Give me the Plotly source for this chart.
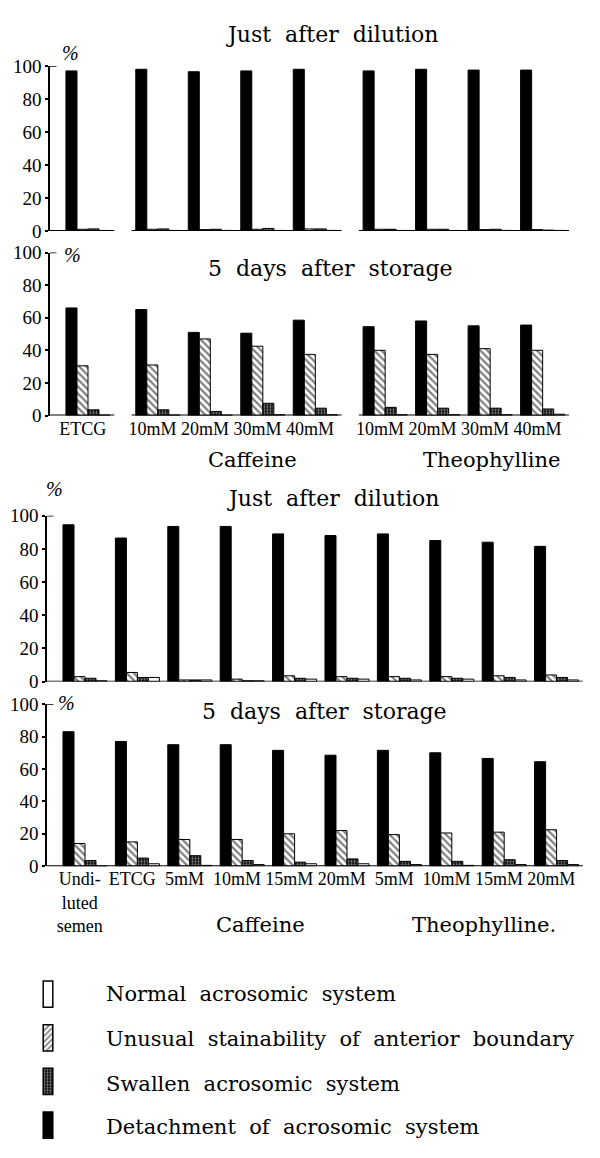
import plotly.graph_objects as go

W, H = 600, 1158

# ---------------- data ----------------
series_names = ["Detachment of acrosomic system",
                "Unusual stainability of anterior boundary",
                "Swallen acrosomic system",
                "Normal acrosomic system"]

# Figure A (top two panels)
figA_labels = ["ETCG", "10mM", "20mM", "30mM", "40mM", "10mM", "20mM", "30mM", "40mM"]
figA_section = [0, 1, 1, 1, 1, 2, 2, 2, 2]

p1_detach  = [97.0, 98.0, 96.5, 97.0, 98.0, 97.0, 98.0, 97.5, 97.5]
p1_unusual = [1.0, 1.0, 0.8, 1.0, 1.2, 1.0, 1.0, 0.8, 0.8]
p1_swallen = [1.2, 1.2, 1.0, 1.5, 1.2, 1.0, 1.0, 1.0, 0.5]
p1_normal  = [0.3, 0.3, 0.3, 0.3, 0.3, 0.3, 0.3, 0.3, 0.3]

p2_detach  = [66.0, 65.0, 51.0, 50.5, 58.5, 54.5, 58.0, 55.0, 55.5]
p2_unusual = [30.5, 31.0, 47.0, 42.5, 37.5, 40.0, 37.5, 41.0, 40.0]
p2_swallen = [3.5, 3.5, 2.5, 7.5, 4.5, 5.0, 4.5, 4.5, 4.0]
p2_normal  = [0.3, 0.3, 0.3, 0.5, 0.5, 0.5, 0.5, 0.5, 0.8]

# Figure B (bottom two panels)
figB_labels = ["Undi-<br>luted<br>semen", "ETCG", "5mM", "10mM", "15mM", "20mM",
               "5mM", "10mM", "15mM", "20mM"]
figB_section = [0, 0, 1, 1, 1, 1, 2, 2, 2, 2]

p3_detach  = [94.5, 86.5, 93.5, 93.5, 89.0, 88.0, 89.0, 85.0, 84.0, 81.5]
p3_unusual = [3.0, 5.5, 1.0, 1.5, 3.5, 3.0, 3.0, 3.0, 3.5, 4.0]
p3_swallen = [2.0, 2.5, 1.0, 0.5, 2.0, 2.0, 2.0, 2.0, 2.5, 2.5]
p3_normal  = [0.5, 2.5, 1.0, 0.5, 1.5, 1.5, 1.0, 1.5, 1.0, 1.0]

p4_detach  = [83.0, 77.0, 75.0, 75.0, 71.5, 68.5, 71.5, 70.0, 66.5, 64.5]
p4_unusual = [14.0, 15.0, 16.5, 16.5, 20.0, 22.0, 19.5, 20.5, 21.0, 22.5]
p4_swallen = [3.5, 5.0, 6.5, 3.5, 2.5, 4.5, 3.0, 3.0, 4.0, 3.5]
p4_normal  = [0.0, 1.5, 0.5, 1.0, 1.5, 1.5, 1.0, 0.5, 1.0, 1.0]

y_ticks = [0, 20, 40, 60, 80, 100]
panel_titles = ["Just  after  dilution", "5  days  after  storage",
                "Just  after  dilution", "5  days  after  storage"]
section_names_A = ["Caffeine", "Theophylline"]
section_names_B = ["Caffeine", "Theophylline."]

# ---------------- layout helpers ----------------
def px(x):
    return x / W

def py(y):
    return min(1.0, max(0.0, 1 - y / H))

TITLE_FONT = dict(family="DejaVu Serif", size=22, color="black")
SECTION_FONT = dict(family="DejaVu Serif", size=21, color="black")
TICK_FONT = dict(family="Liberation Serif", size=19, color="black")
XTICK_FONT = dict(family="Liberation Serif", size=18, color="black")

hatch = dict(shape="\\", fgcolor="black", bgcolor="white", size=5, solidity=0.45)
stipple = dict(shape=".", fgcolor="white", bgcolor="black", size=3, solidity=0.45)
styles = [
    dict(color="black", line=dict(color="black", width=1)),
    dict(color="white", line=dict(color="black", width=1), pattern=hatch),
    dict(color="white", line=dict(color="black", width=1), pattern=stipple),
    dict(color="white", line=dict(color="black", width=1)),
]
legend_styles = [
    dict(color="black", line=dict(color="black", width=1.5)),
    dict(color="white", line=dict(color="black", width=1.5),
         pattern=dict(shape="/", fgcolor="black", bgcolor="white", size=4, solidity=0.45)),
    dict(color="white", line=dict(color="black", width=1.5), pattern=stipple),
    dict(color="white", line=dict(color="black", width=1.5)),
]

def positions(sections, gap):
    return [i + gap * s for i, s in enumerate(sections)]

posA = positions(figA_section, 0.33)
posB = positions(figB_section, 0.0)

panels = [
    # (values, positions, labels, sections, show labels, y100 px, y0 px, x-left px, unit px, group0 center px)
    ([p1_detach, p1_unusual, p1_swallen, p1_normal], posA, figA_labels, figA_section, False, 57, 225, 50, 52.5, 88),
    ([p2_detach, p2_unusual, p2_swallen, p2_normal], posA, figA_labels, figA_section, True, 247, 413, 50, 52.5, 88),
    ([p3_detach, p3_unusual, p3_swallen, p3_normal], posB, figB_labels, figB_section, False, 515, 684, 47, 52.4, 85),
    ([p4_detach, p4_unusual, p4_swallen, p4_normal], posB, figB_labels, figB_section, True, 707, 872, 47, 52.4, 85),
]

fig = go.Figure()
layout = dict(width=W, height=H, margin=dict(l=0, r=0, t=0, b=0),
              paper_bgcolor="white", plot_bgcolor="white",
              barmode="group", bargap=0.16, bargroupgap=0,
              showlegend=False, font=dict(family="Liberation Serif", color="black"))
shapes = []
annotations = []

for k, (vals, pos, labels, secs, show_lbl, y100, y0, xl, unit, c0) in enumerate(panels):
    n = k + 1
    xa = "x" if n == 1 else f"x{n}"
    ya = "y" if n == 1 else f"y{n}"
    for s, v in enumerate(vals):
        fig.add_trace(go.Bar(x=pos, y=v, name=series_names[s], marker=styles[s],
                             xaxis=xa, yaxis=ya, hoverinfo="y+name"))
    left = (xl - c0) / unit
    right = left + (590 - xl) / unit
    layout[f"xaxis{'' if n == 1 else n}"] = dict(
        domain=[px(xl), px(590)], range=[left, right], anchor=ya,
        showline=False, showgrid=False, zeroline=False,
        tickmode="array", tickvals=[p - 0.1 for p in pos], ticktext=labels,
        showticklabels=show_lbl, ticks="", tickfont=XTICK_FONT, tickangle=0)
    layout[f"yaxis{'' if n == 1 else n}"] = dict(
        domain=[py(y0), py(y100)], range=[0, 100], anchor=xa,
        showline=True, linecolor="black", linewidth=1.5, showgrid=False, zeroline=False,
        tickmode="array", tickvals=y_ticks, ticks="outside", ticklen=3, tickwidth=1.5,
        tickcolor="black", tickfont=TICK_FONT)
    # segmented baseline (one segment per section)
    for sid in sorted(set(secs)):
        idx = [i for i, s in enumerate(secs) if s == sid]
        x0 = left if sid == 0 else pos[idx[0]] - 0.5
        x1 = pos[idx[-1]] + 0.5
        shapes.append(dict(type="line", xref=xa, yref=ya, x0=x0, x1=x1, y0=0, y1=0,
                           line=dict(color="black", width=1.8)))
    # small top tick at 100
    shapes.append(dict(type="line", xref=f"{xa} domain", yref=ya, x0=0, x1=0.012,
                       y0=100, y1=100, line=dict(color="black", width=1.5)))

# panel titles
title_y = [25, 263, 498, 714]
title_x = [332, 330, 333, 324]
for t, yy, xx in zip(panel_titles, title_y, title_x):
    annotations.append(dict(text=t, x=px(xx), y=py(yy), xref="paper", yref="paper",
                            showarrow=False, font=TITLE_FONT, xanchor="center", yanchor="middle"))

# % signs
for (xx, yy) in [(70, 44), (72, 250), (54, 488), (66, 706)]:
    annotations.append(dict(text="<i>%</i>", x=px(xx), y=py(yy), xref="paper", yref="paper",
                            showarrow=False, font=dict(family="Liberation Serif", size=20, color="black"),
                            xanchor="center", yanchor="middle"))

# section names
for name, xx in zip(section_names_A, [252, 492]):
    annotations.append(dict(text=name, x=px(xx), y=py(458), xref="paper", yref="paper",
                            showarrow=False, font=SECTION_FONT, xanchor="center", yanchor="middle"))
for name, xx in zip(section_names_B, [260, 484]):
    annotations.append(dict(text=name, x=px(xx), y=py(932), xref="paper", yref="paper",
                            showarrow=False, font=SECTION_FONT, xanchor="center", yanchor="middle"))

# ---------------- legend (icons drawn as small bars in their own axes) ----------------
legend_order = [3, 1, 2, 0]  # Normal, Unusual, Swallen, Detachment (top to bottom)
leg_rows = [1002, 1048, 1094, 1138]
row_h = 44
icon_h = 0.6
icon_w = 0.6
leg_top = leg_rows[0] - row_h / 2
leg_bot = leg_rows[-1] + row_h / 2
n_rows = len(legend_order)
for r, s in enumerate(legend_order):
    center = n_rows - 0.5 - r
    fig.add_trace(go.Bar(x=[0], y=[icon_h], base=[center - icon_h / 2], marker=legend_styles[s],
                         xaxis="x5", yaxis="y5", width=[icon_w], offset=[-icon_w / 2],
                         hoverinfo="skip", name=series_names[s], cliponaxis=False))
    annotations.append(dict(text=series_names[s].replace(" ", "  "), x=px(104), y=py(leg_rows[r]),
                            xref="paper", yref="paper", showarrow=False,
                            font=dict(family="DejaVu Serif", size=21, color="black"),
                            xanchor="left", yanchor="middle"))
layout["xaxis5"] = dict(domain=[px(40), px(56)], range=[-0.5, 0.5], visible=False, anchor="y5")
layout["yaxis5"] = dict(domain=[py(leg_bot), py(leg_top)], range=[0, n_rows], visible=False, anchor="x5")

layout["shapes"] = shapes
layout["annotations"] = annotations
fig.update_layout(**layout)
fig.write_html("out.html")
